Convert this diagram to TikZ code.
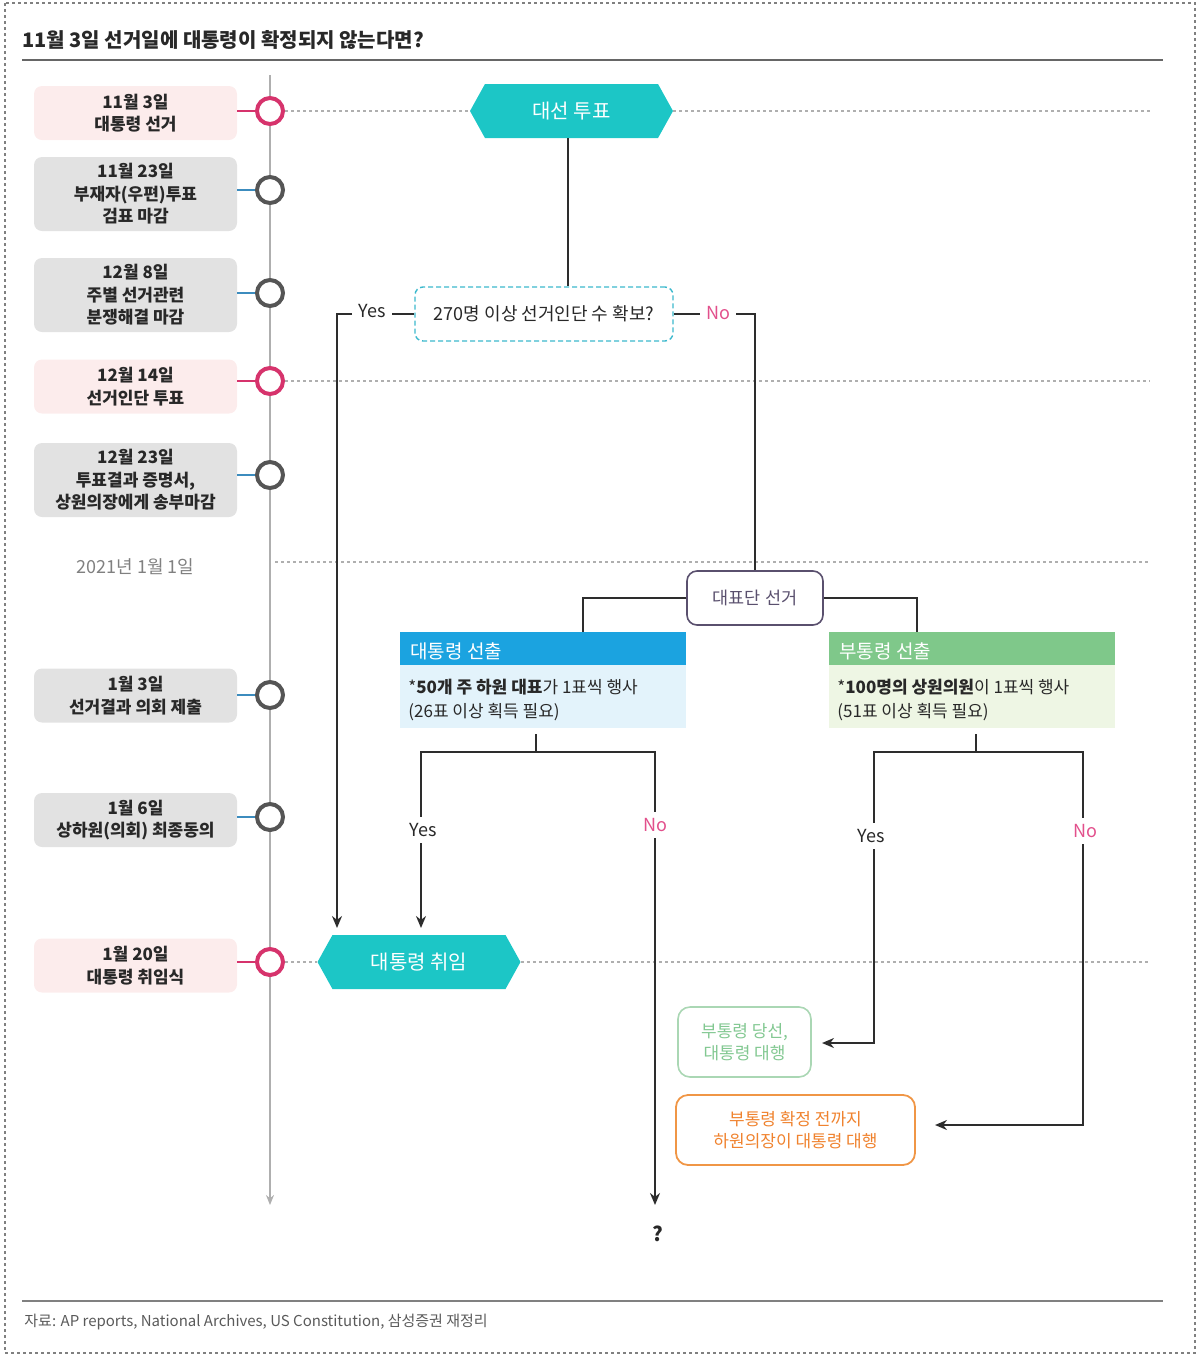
\documentclass[tikz,border=0pt]{standalone}
\usepackage{fontspec}
\setmainfont{Noto Sans CJK KR}
\usetikzlibrary{shapes.symbols,arrows.meta,calc}
\definecolor{txtdark}{RGB}{40,40,40}
\definecolor{pinkc}{RGB}{214,51,108}
\definecolor{notext}{RGB}{226,80,140}
\definecolor{pinkfill}{RGB}{252,236,236}
\definecolor{grayfill}{RGB}{226,226,226}
\definecolor{circgray}{RGB}{85,85,85}
\definecolor{tlgray}{RGB}{175,175,175}
\definecolor{bluecon}{RGB}{60,140,190}
\definecolor{tealc}{RGB}{28,198,198}
\definecolor{tealdash}{RGB}{60,185,205}
\definecolor{bluehead}{RGB}{27,163,224}
\definecolor{bluebody}{RGB}{227,243,251}
\definecolor{greenhead}{RGB}{127,200,138}
\definecolor{greenbody}{RGB}{238,246,228}
\definecolor{purpc}{RGB}{90,80,110}
\definecolor{lgreenline}{RGB}{170,215,180}
\definecolor{lgreentext}{RGB}{130,200,145}
\definecolor{orangeline}{RGB}{240,150,70}
\definecolor{orangetext}{RGB}{240,130,45}
\definecolor{linec}{RGB}{45,45,45}
\definecolor{dotgray}{RGB}{175,175,175}
\definecolor{footgray}{RGB}{90,90,90}
\begin{document}
\begin{tikzpicture}[x=0.5pt,y=-0.5pt,
  datebox/.style={rectangle, rounded corners=4pt, minimum width=101.5pt, inner sep=0pt, align=center, text=txtdark, font=\fontsize{8.5}{11.25}\selectfont\bfseries},
  pinkbox/.style={datebox, fill=pinkfill, minimum height=27pt},
  graybox/.style={datebox, fill=grayfill},
  pcirc/.style={circle, draw=pinkc, line width=2pt, fill=white, minimum size=13pt, inner sep=0pt},
  gcirc/.style={pcirc, draw=circgray},
  hexa/.style={shape=signal, signal to=west and east, signal pointer angle=122, fill=tealc, text=white, minimum width=101.5pt, minimum height=27pt, inner sep=0pt, font=\fontsize{10}{12}\selectfont},
  conn/.style={draw=linec, line width=0.9pt},
  arr/.style={conn, -{Stealth[length=6pt,width=5pt]}},
  dotline/.style={draw=dotgray, line width=0.7pt, dash pattern=on 1.5pt off 1.5pt},
  lbl/.style={font=\fontsize{9}{11}\selectfont, inner sep=3pt, text=txtdark},
  nolbl/.style={lbl, text=notext},
  pinkcon/.style={draw=pinkc, line width=1pt},
  bluecn/.style={draw=bluecon, line width=1pt}
]
\useasboundingbox (0,0) rectangle (1198,1356);
% outer frame
\draw[dotline, draw=gray] (5,3) rectangle (1195,1353);
% title
\node[anchor=west, inner sep=0pt, text=txtdark, font=\fontsize{10}{12}\selectfont\bfseries] (title) at (22,40) {11월 3일 선거일에 대통령이 확정되지 않는다면?};
\coordinate (tl1) at (22,60);
\coordinate (tl2) at (1163,60);
\draw[draw=gray!80!black, line width=0.8pt] (tl1) -- (tl2);
% footer
\coordinate (fl1) at (22,1301);
\coordinate (fl2) at (1163,1301);
\draw[draw=gray, line width=0.8pt] (fl1) -- (fl2);
\node[anchor=west, inner sep=0pt, text=footgray, font=\fontsize{7.5}{9}\selectfont] (foot) at (24,1322) {자료: AP reports, National Archives, US Constitution, 삼성증권 재정리};

% timeline
\coordinate (tltop) at (270,75);
\coordinate (tlbot) at (270,1205);
\draw[draw=tlgray, line width=1pt, -{Stealth[length=5pt,width=4pt]}] (tltop) -- (tlbot);

% right ends of dotted lines
\coordinate (e1) at (1150,111);
\coordinate (e4) at (1150,381);
\coordinate (s9) at (275,562);
\coordinate (e9) at (1150,562);
\coordinate (e8) at (1150,962);

% hexagons
\node[hexa] (h1) at (571.5,111) {대선 투표};
\node[hexa] (h2) at (419,962) {대통령 취임};

% circles
\node[pcirc] (c1) at (270,111) {};
\node[gcirc] (c2) at (270,190) {};
\node[gcirc] (c3) at (270,293) {};
\node[pcirc] (c4) at (270,381) {};
\node[gcirc] (c5) at (270,475) {};
\node[gcirc] (c6) at (270,695) {};
\node[gcirc] (c7) at (270,817) {};
\node[pcirc] (c8) at (270,962) {};

% dotted lines
\draw[dotline] (c1.east) -- (h1.west);
\draw[dotline] (h1.east) -- (e1);
\draw[dotline] (c4.east) -- (e4);
\draw[dotline] (s9) -- (e9);
\draw[dotline] (c8.east) -- (h2.west);
\draw[dotline] (h2.east) -- (e8);

% date boxes
\node[pinkbox] (d1) at (135.5,113) {11월 3일\\대통령 선거};
\node[graybox, minimum height=37pt] (d2) at (135.5,194) {11월 23일\\부재자(우편)투표\\검표 마감};
\node[graybox, minimum height=37pt] (d3) at (135.5,295) {12월 8일\\주별 선거관련\\분쟁해결 마감};
\node[pinkbox] (d4) at (135.5,386.5) {12월 14일\\선거인단 투표};
\node[graybox, minimum height=37pt] (d5) at (135.5,480) {12월 23일\\투표결과 증명서,\\상원의장에게 송부마감};
\node[text=gray, font=\fontsize{9}{11}\selectfont] (d2021) at (135.5,567) {2021년 1월 1일};
\node[graybox, minimum height=27pt] (d6) at (135.5,695.5) {1월 3일\\선거결과 의회 제출};
\node[graybox, minimum height=27pt] (d7) at (135.5,820) {1월 6일\\상하원(의회) 최종동의};
\node[pinkbox] (d8) at (135.5,965.5) {1월 20일\\대통령 취임식};

% box-to-circle connectors
\draw[pinkcon] (c1.west -| d1.east) -- (c1.west);
\draw[bluecn] (c2.west -| d2.east) -- (c2.west);
\draw[bluecn] (c3.west -| d3.east) -- (c3.west);
\draw[pinkcon] (c4.west -| d4.east) -- (c4.west);
\draw[bluecn] (c5.west -| d5.east) -- (c5.west);
\draw[bluecn] (c6.west -| d6.east) -- (c6.west);
\draw[bluecn] (c7.west -| d7.east) -- (c7.west);
\draw[pinkcon] (c8.west -| d8.east) -- (c8.west);

% decision
\node[rectangle, rounded corners=4pt, draw=tealdash, line width=0.7pt, dash pattern=on 2.5pt off 1.5pt, fill=white, minimum width=129pt, minimum height=27pt, inner sep=0pt, text=txtdark, font=\fontsize{9}{11}\selectfont] (q) at (544,314) {270명 이상 선거인단 수 확보?};
\coordinate (qx) at (568,0);
\draw[conn] (h1.south -| qx) -- (q.north -| qx);
\node[lbl] (yes1) at (372,311) {Yes};
\node[nolbl] (no1) at (718,313) {No};
\coordinate (a1) at (337,928);
\draw[conn] (q.west) -- (yes1.east |- q.west);
\draw[arr] (yes1.west |- q.west) -| (a1);
\draw[conn] (q.east) -- (no1.west |- q.east);

% 대표단 선거
\node[rectangle, rounded corners=5pt, draw=purpc, line width=0.8pt, fill=white, minimum width=68pt, minimum height=27pt, inner sep=0pt, text=purpc, font=\fontsize{8.75}{11}\selectfont] (r) at (755,598) {대표단 선거};
\draw[conn] (no1.east |- q.east) -| (r.north);

% panels
\node[rectangle, fill=bluebody, minimum width=143pt, minimum height=31.5pt, inner sep=0pt] (pb) at (543,696.5) {};
\node[rectangle, fill=bluehead, minimum width=143pt, minimum height=16.5pt, inner sep=0pt] (ph) at (543,648.5) {};
\node[anchor=west, text=white, font=\fontsize{9.5}{11}\selectfont, inner sep=0pt] (pht) at (410,651) {대통령 선출};
\node[anchor=west, align=left, text=txtdark, font=\fontsize{8.5}{12}\selectfont, inner sep=0pt] (pbt) at (408,700) {*\textbf{50개 주 하원 대표}가 1표씩 행사\\ (26표 이상 획득 필요)};

\node[rectangle, fill=greenbody, minimum width=143pt, minimum height=31.5pt, inner sep=0pt] (vb) at (971.5,696.5) {};
\node[rectangle, fill=greenhead, minimum width=143pt, minimum height=16.5pt, inner sep=0pt] (vh) at (971.5,648.5) {};
\node[anchor=west, text=white, font=\fontsize{9.5}{11}\selectfont, inner sep=0pt] (vht) at (839,651) {부통령 선출};
\node[anchor=west, align=left, text=txtdark, font=\fontsize{8.5}{12}\selectfont, inner sep=0pt] (vbt) at (837,700) {*\textbf{100명의 상원의원}이 1표씩 행사\\ (51표 이상 획득 필요)};

\coordinate (pj) at (583,632);
\coordinate (vj) at (917,632);
\draw[conn] (r.west) -| (pj);
\draw[conn] (r.east) -| (vj);

% left branch
\coordinate (pstub) at (536,734);
\coordinate (pjn) at (536,752);
\node[lbl] (yes2) at (423,830) {Yes};
\node[nolbl] (no2) at (655,825) {No};
\node[lbl, font=\fontsize{10}{12}\selectfont\bfseries] (qm) at (658,1234) {?};
\coordinate (a2) at (421,928);
\coordinate (a3) at (655,1205);
\draw[conn] (pstub) -- (pjn);
\draw[conn] (yes2.north -| a2) |- (pjn) -| (no2.north);
\draw[arr] (yes2.south -| a2) -- (a2);
\draw[arr] (no2.south) -- (a3);

% right branch
\node[rectangle, rounded corners=6pt, draw=lgreenline, line width=0.8pt, fill=white, minimum width=66.5pt, minimum height=35pt, inner sep=0pt, align=center, text=lgreentext, font=\fontsize{8.5}{11.25}\selectfont] (vp1) at (744.5,1042) {부통령 당선,\\대통령 대행};
\node[rectangle, rounded corners=6pt, draw=orangeline, line width=0.9pt, fill=white, minimum width=119.5pt, minimum height=35pt, inner sep=0pt, align=center, text=orangetext, font=\fontsize{8.5}{11.25}\selectfont] (vp2) at (795.5,1130) {부통령 확정 전까지\\하원의장이 대통령 대행};
\coordinate (vstub) at (976,734);
\coordinate (vjn) at (976,752);
\coordinate (ry) at (874,752);
\coordinate (rn) at (1083,752);
\node[lbl] (yes3) at (871,836) {Yes};
\node[nolbl] (no3) at (1085,831) {No};
\coordinate (a4) at (822,1043);
\coordinate (a5) at (935,1125);
\draw[conn] (vstub) -- (vjn);
\draw[conn] (yes3.north -| ry) -- (ry) -- (rn) -- (no3.north -| rn);
\draw[arr] (yes3.south -| ry) |- (a4);
\draw[arr] (no3.south -| rn) |- (a5);
\end{tikzpicture}
\end{document}
